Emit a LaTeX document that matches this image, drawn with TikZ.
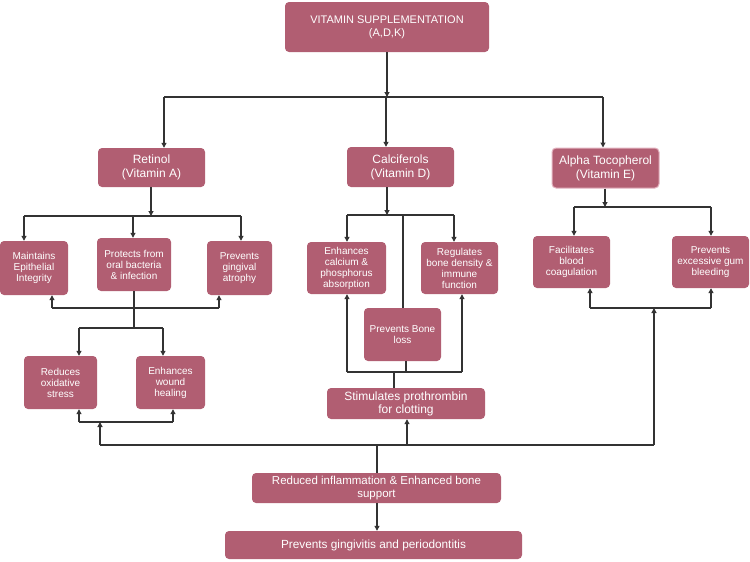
\documentclass[tikz,border=0pt]{standalone}
\usepackage{fontspec}
\setmainfont{Liberation Sans}
\usetikzlibrary{arrows.meta}
\definecolor{boxfill}{HTML}{B15E72}
\definecolor{boxedge}{HTML}{E3B3C0}
\definecolor{linec}{HTML}{333333}
\begin{document}
\begin{tikzpicture}[x=1pt,y=-1pt,
  box/.style={fill=boxfill,rounded corners=4pt,text=white,align=center,inner sep=1pt,font=\fontsize{10}{11}\selectfont},
  ln/.style={draw=linec,line width=1.1pt},
  arr/.style={ln,-{Triangle[length=5pt,width=5pt]}}]
\useasboundingbox (0,0) rectangle (750,562);
% boxes
\node[box,minimum width=204pt,minimum height=50pt,font=\fontsize{11}{13}\selectfont] (top) at (387,27) {VITAMIN SUPPLEMENTATION\\(A,D,K)};
\node[box,minimum width=107pt,minimum height=39pt,font=\fontsize{12}{14}\selectfont] (ret) at (151.5,167.5) {Retinol\\(Vitamin A)};
\node[box,minimum width=107pt,minimum height=40pt,font=\fontsize{12}{14}\selectfont] (cal) at (400.5,167) {Calciferols\\(Vitamin D)};
\node[box,draw=boxedge,line width=1pt,minimum width=107pt,minimum height=40pt,font=\fontsize{12}{14}\selectfont] (alp) at (605.5,168) {Alpha Tocopherol\\(Vitamin E)};
\node[box,minimum width=68pt,minimum height=54pt] (mai) at (34,268) {Maintains\\Epithelial\\Integrity};
\node[box,minimum width=74pt,minimum height=53pt] (pro) at (134,264.5) {Protects from\\oral bacteria\\\& infection};
\node[box,minimum width=65pt,minimum height=54pt] (atr) at (239.5,268) {Prevents\\gingival\\atrophy};
\node[box,minimum width=73pt,minimum height=53pt] (red) at (60.5,382.5) {Reduces\\oxidative\\stress};
\node[box,minimum width=69pt,minimum height=53pt] (wou) at (170.5,382.5) {Enhances\\wound\\healing};
\node[box,minimum width=79pt,minimum height=52pt] (enc) at (346.5,268) {Enhances\\calcium \&\\phosphorus\\absorption};
\node[box,minimum width=77pt,minimum height=52pt] (reg) at (459.5,268) {Regulates\\bone density \&\\immune\\function};
\node[box,minimum width=77pt,minimum height=53pt] (bon) at (402.5,334.5) {Prevents Bone\\loss};
\node[box,minimum width=158pt,minimum height=31pt,font=\fontsize{12}{13}\selectfont] (sti) at (406,403.5) {Stimulates prothrombin\\for clotting};
\node[box,minimum width=77pt,minimum height=52pt] (fac) at (571.5,262) {Facilitates\\blood\\coagulation};
\node[box,minimum width=77pt,minimum height=52pt] (exc) at (710.5,262) {Prevents\\excessive gum\\bleeding};
\node[box,minimum width=249pt,minimum height=30pt,font=\fontsize{11.5}{12.5}\selectfont] (rin) at (376.5,488) {Reduced inflammation \& Enhanced bone\\support};
\node[box,minimum width=297pt,minimum height=28pt,font=\fontsize{11.8}{13}\selectfont] (pgp) at (373.5,545) {Prevents gingivitis and periodontitis};
% junction coordinates
\coordinate (j0) at (387,97);
\coordinate (jl) at (164,97);
\coordinate (jc) at (386,97);
\coordinate (jr) at (603,97);
\coordinate (ra) at (151,216);
\coordinate (ra1) at (24,216);
\coordinate (ra2) at (133,216);
\coordinate (ra3) at (241,216);
\coordinate (rb) at (134,308);
\coordinate (rb1) at (52,308);
\coordinate (rb2) at (219,308);
\coordinate (rc) at (134,328);
\coordinate (rc1) at (79,328);
\coordinate (rc2) at (163,328);
\coordinate (rd1) at (79,422);
\coordinate (rd2) at (173,422);
\coordinate (rd) at (100,422);
\coordinate (b0) at (100,445);
\coordinate (b1) at (377,445);
\coordinate (b2) at (407,445);
\coordinate (b3) at (654,445);
\coordinate (ea) at (654,308);
\coordinate (ea1) at (590,308);
\coordinate (ea2) at (711,308);
\coordinate (eb) at (605,207);
\coordinate (eb1) at (574,207);
\coordinate (eb2) at (711,207);
\coordinate (ca) at (387,215);
\coordinate (ca1) at (347,215);
\coordinate (ca2) at (454,215);
\coordinate (ca3) at (403,215);
\coordinate (cb1) at (347,372);
\coordinate (cb2) at (462,372);
\coordinate (cb3) at (406,372);
\coordinate (cb4) at (394,372);
% top
\draw[arr] (top.south -| j0) -- (j0);
\draw[ln] (jl) -- (jr);
\draw[arr] (jl) -- (jl |- ret.north);
\draw[arr] (jc) -- (jc |- cal.north);
\draw[arr] (jr) -- (jr |- alp.north);
% retinol
\draw[arr] (ret.south -| ra) -- (ra);
\draw[ln] (ra1) -- (ra3);
\draw[arr] (ra1) -- (ra1 |- mai.north);
\draw[arr] (ra2) -- (ra2 |- pro.north);
\draw[arr] (ra3) -- (ra3 |- atr.north);
\draw[ln] (pro.south -| rc) -- (rc);
\draw[ln] (rb1) -- (rb2);
\draw[arr] (rb1) -- (rb1 |- mai.south);
\draw[arr] (rb2) -- (rb2 |- atr.south);
\draw[ln] (rc1) -- (rc2);
\draw[arr] (rc1) -- (rc1 |- red.north);
\draw[arr] (rc2) -- (rc2 |- wou.north);
\draw[ln] (rd1) -- (rd2);
\draw[arr] (rd1) -- (rd1 |- red.south);
\draw[arr] (rd2) -- (rd2 |- wou.south);
% bottom distribution
\draw[arr] (b0) -- (rd);
\draw[ln] (b0) -- (b3);
\draw[arr] (b2) -- (b2 |- sti.south);
\draw[arr] (b3) -- (ea);
\draw[ln] (ea1) -- (ea2);
\draw[arr] (ea1) -- (ea1 |- fac.south);
\draw[arr] (ea2) -- (ea2 |- exc.south);
\draw[ln] (rin.north -| b1) -- (b1);
\draw[arr] (rin.south -| b1) -- (b1 |- pgp.north);
% alpha
\draw[arr] (alp.south -| eb) -- (eb);
\draw[ln] (eb1) -- (eb2);
\draw[arr] (eb1) -- (eb1 |- fac.north);
\draw[arr] (eb2) -- (eb2 |- exc.north);
% calciferols
\draw[arr] (cal.south -| ca) -- (ca);
\draw[ln] (ca1) -- (ca2);
\draw[arr] (ca1) -- (ca1 |- enc.north);
\draw[arr] (ca2) -- (ca2 |- reg.north);
\draw[ln] (ca3) -- (ca3 |- bon.north);
\draw[ln] (cb1) -- (cb2);
\draw[arr] (cb1) -- (cb1 |- enc.south);
\draw[arr] (cb2) -- (cb2 |- reg.south);
\draw[ln] (bon.south -| cb3) -- (cb3);
\draw[ln] (cb4) -- (cb4 |- sti.north);
\end{tikzpicture}
\end{document}
